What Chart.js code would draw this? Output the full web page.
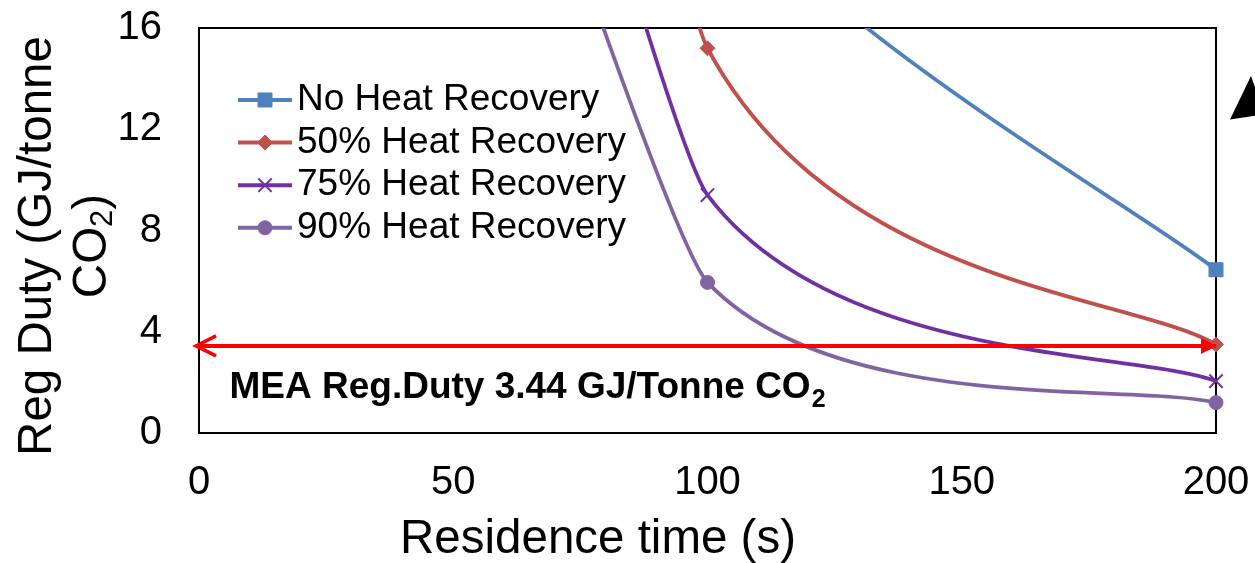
<!DOCTYPE html>
<html>
<head>
<meta charset="utf-8">
<title>Regeneration duty vs residence time</title>
<script src="https://cdn.jsdelivr.net/npm/chart.js@4.4.1/dist/chart.umd.min.js"></script>
<style>
  html, body { margin: 0; padding: 0; background: #fff; }
  canvas { display: block; }
</style>
</head>
<body>
<canvas id="chart-duty" width="1255" height="563"></canvas>
<script>
'use strict';

// Regeneration duty (GJ/tonne CO2) against residence time (s)
const residenceTime = [50, 100, 200];
const dutyNoRecovery = [45, 22, 6.45];
const duty50Recovery = [60, 15.2, 3.5];
const duty75Recovery = [42, 9.4, 2.05];
const duty90Recovery = [33, 5.95, 1.2];
const seriesLabels = ['No Heat Recovery', '50% Heat Recovery', '75% Heat Recovery', '90% Heat Recovery'];

const xTicks = [0, 50, 100, 150, 200];
const yTicks = [0, 4, 8, 12, 16];

// MEA benchmark, drawn as a double arrow over the full x range
const meaDuty = 3.44;
const meaRange = [0, 200];

const COLORS = {
  blue: '#4F81BD', red: '#C0504D', purple: '#7030A0', lavender: '#8064A2',
  mea: '#FF0000', ink: '#000000',
};
const FONT = '"Liberation Sans", Arial, Helvetica, sans-serif';

const SERIES = [
  { label: seriesLabels[0], values: dutyNoRecovery, color: COLORS.blue, pointStyle: 'rect', radius: 9.9, pointBorder: 1 },
  { label: seriesLabels[1], values: duty50Recovery, color: COLORS.red, pointStyle: 'rectRot', radius: 7.5, pointBorder: 1 },
  { label: seriesLabels[2], values: duty75Recovery, color: COLORS.purple, pointStyle: 'crossRot', radius: 9.4, pointBorder: 2 },
  { label: seriesLabels[3], values: duty90Recovery, color: COLORS.lavender, pointStyle: 'circle', radius: 7, pointBorder: 1 },
];

const toPoints = (ys) => residenceTime.map((x, i) => ({ x, y: ys[i] }));

// spreadsheet-style smoothing: tangent = (next - prev) / 6, each handle
// limited to half of its own segment; the incoming handle of an interior
// point is kept short so the steep leg runs nearly straight into the marker
const IN_HANDLE = 0.3;
const smoothLines = {
  id: 'smoothLines',
  beforeDatasetDraw(chart, args) {
    const ds = chart.data.datasets[args.index];
    const meta = args.meta;
    if (!ds.smooth || !meta.dataset) return;
    meta.dataset.updateControlPoints(chart.chartArea, meta.indexAxis);
    const pts = meta.data;
    const last = pts.length - 1;
    pts.forEach((p, i) => {
      const prev = pts[i - 1] || p;
      const next = pts[i + 1] || p;
      const tx = (next.x - prev.x) / 6;
      const ty = (next.y - prev.y) / 6;
      const tl = Math.hypot(tx, ty) || 1;
      let kIn = Math.min(1, Math.hypot(p.x - prev.x, p.y - prev.y) / 2 / tl);
      const kOut = Math.min(1, Math.hypot(next.x - p.x, next.y - p.y) / 2 / tl);
      if (i > 0 && i < last) kIn *= IN_HANDLE;
      p.cp1x = p.x - tx * kIn;
      p.cp1y = p.y - ty * kIn;
      p.cp2x = p.x + tx * kOut;
      p.cp2y = p.y + ty * kOut;
    });
  },
};

// black frame round the plot area, under the markers
const plotFrame = {
  id: 'plotFrame',
  beforeDatasetsDraw(chart) {
    const { ctx, chartArea: a } = chart;
    ctx.save();
    ctx.strokeStyle = COLORS.ink;
    ctx.lineWidth = 2;
    ctx.strokeRect(a.left, a.top, a.right - a.left, a.bottom - a.top);
    ctx.restore();
  },
};

// arrow heads on the MEA line and its caption
const meaArrow = {
  id: 'meaArrow',
  afterDatasetsDraw(chart) {
    const { ctx } = chart;
    const pts = chart.getDatasetMeta(0).data;
    if (pts.length < 2) return;
    const l = pts[0], r = pts[pts.length - 1];
    ctx.save();
    ctx.fillStyle = COLORS.mea;
    ctx.strokeStyle = COLORS.mea;
    ctx.lineWidth = 3.5;
    ctx.beginPath();
    ctx.moveTo(r.x + 1, r.y);
    ctx.lineTo(r.x - 15, r.y - 8);
    ctx.lineTo(r.x - 15, r.y + 8);
    ctx.closePath();
    ctx.fill();
    ctx.beginPath();
    ctx.moveTo(l.x + 17, l.y - 10);
    ctx.lineTo(l.x - 3, l.y);
    ctx.lineTo(l.x + 17, l.y + 10);
    ctx.stroke();

    const xs = chart.scales.x, ys = chart.scales.y;
    const tx = xs.getPixelForValue(6);
    const ty = ys.getPixelForValue(1.38);
    ctx.fillStyle = COLORS.ink;
    ctx.textBaseline = 'alphabetic';
    ctx.textAlign = 'left';
    ctx.font = 'bold 37px ' + FONT;
    const main = 'MEA Reg.Duty ' + meaDuty + ' GJ/Tonne CO';
    ctx.fillText(main, tx, ty);
    const w = ctx.measureText(main).width;
    ctx.font = 'bold 25px ' + FONT;
    ctx.fillText('2', tx + w + 1, ty + 9);
    ctx.restore();
  },
};

// legend with line + marker samples inside the plot
const lineLegend = {
  id: 'lineLegend',
  afterDraw(chart) {
    const { ctx, chartArea: a } = chart;
    ctx.save();
    ctx.font = '37px ' + FONT;
    ctx.textBaseline = 'middle';
    ctx.textAlign = 'left';
    SERIES.forEach((s, i) => {
      const y = a.top + 72 + i * 42.6;
      ctx.strokeStyle = s.color;
      ctx.lineWidth = 4;
      ctx.beginPath();
      ctx.moveTo(a.left + 39, y);
      ctx.lineTo(a.left + 93, y);
      ctx.stroke();
      ctx.fillStyle = s.color;
      ctx.lineWidth = s.pointBorder;
      Chart.helpers.drawPoint(ctx, { pointStyle: s.pointStyle, radius: s.radius, borderWidth: s.pointBorder, rotation: 0 }, a.left + 66, y);
      ctx.fillStyle = COLORS.ink;
      ctx.fillText(s.label, a.left + 98, y);
    });
    ctx.restore();
  },
};

// axis titles (y title carries a subscript) and the pointer arrow at the right edge
const axisTitles = {
  id: 'axisTitles',
  afterDraw(chart) {
    const { ctx } = chart;
    ctx.save();
    ctx.fillStyle = COLORS.ink;
    ctx.font = '47.5px ' + FONT;
    ctx.textBaseline = 'middle';
    ctx.textAlign = 'center';
    ctx.fillText('Residence time (s)', 598, 540);

    ctx.translate(0, 246);
    ctx.rotate(-Math.PI / 2);
    ctx.fillText('Reg Duty (GJ/tonne', 0, 38);
    ctx.textAlign = 'left';
    const wCO = ctx.measureText('CO').width;
    const wPar = ctx.measureText(')').width;
    ctx.font = '31px ' + FONT;
    const wSub = ctx.measureText('2').width;
    const x0 = -(wCO + wSub + wPar) / 2;
    ctx.fillText('2', x0 + wCO, 93 + 10);
    ctx.font = '47.5px ' + FONT;
    ctx.fillText('CO', x0, 93);
    ctx.fillText(')', x0 + wCO + wSub, 93);
    ctx.restore();

    ctx.save();
    ctx.fillStyle = COLORS.ink;
    ctx.beginPath();
    ctx.moveTo(1230, 119.5);
    ctx.lineTo(1251, 76);
    ctx.lineTo(1256, 90);
    ctx.lineTo(1256, 115.5);
    ctx.closePath();
    ctx.fill();
    ctx.restore();
  },
};

const datasets = [
  {
    label: 'MEA',
    data: meaRange.map(x => ({ x, y: meaDuty })),
    borderColor: COLORS.mea, borderWidth: 4,
    pointRadius: 0, tension: 0, clip: false,
  },
  ...SERIES.map(s => ({
    label: s.label,
    data: toPoints(s.values),
    borderColor: s.color, backgroundColor: s.color, borderWidth: 3.75,
    pointStyle: s.pointStyle, pointRadius: s.radius,
    pointBackgroundColor: s.color, pointBorderColor: s.color, pointBorderWidth: s.pointBorder,
    tension: 0.4, smooth: true,
    clip: { left: 14, right: 14, top: 0, bottom: 14 },
  })),
];

new Chart(document.getElementById('chart-duty'), {
  type: 'line',
  data: { datasets },
  options: {
    responsive: false, animation: false, devicePixelRatio: 1, events: [],
    layout: { padding: { top: 28, right: 39, left: 0, bottom: 0 } },
    plugins: { legend: { display: false }, tooltip: { enabled: false } },
    scales: {
      x: {
        type: 'linear', min: 0, max: 200,
        afterBuildTicks: (scale) => { scale.ticks = xTicks.map(value => ({ value })); },
        afterFit: (scale) => { scale.height = 130; scale.paddingLeft = 0; scale.paddingRight = 0; },
        grid: { display: false, drawTicks: false }, border: { display: false },
        ticks: { color: COLORS.ink, padding: 26, maxRotation: 0, autoSkip: false, font: { family: FONT, size: 40 } },
      },
      y: {
        type: 'linear', min: 0, max: 16,
        afterBuildTicks: (scale) => { scale.ticks = yTicks.map(value => ({ value })); },
        afterFit: (scale) => { scale.width = 199; scale.paddingTop = 0; scale.paddingBottom = 0; },
        grid: { display: false, drawTicks: false }, border: { display: false },
        ticks: { color: COLORS.ink, padding: 37, font: { family: FONT, size: 40 } },
      },
    },
  },
  plugins: [smoothLines, plotFrame, meaArrow, lineLegend, axisTitles],
});
</script>
</body>
</html>
